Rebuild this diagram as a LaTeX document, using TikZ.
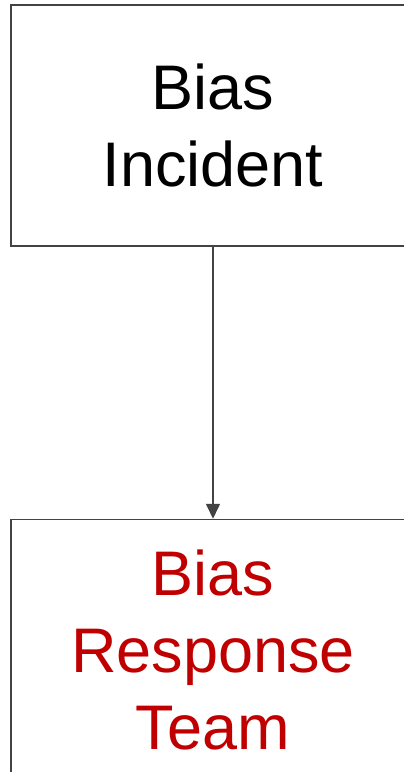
\documentclass[tikz,border=0pt]{standalone}
\usepackage{fontspec}
\setmainfont{Liberation Sans}
\usepackage{tikz}
\usetikzlibrary{arrows.meta, positioning}
\definecolor{edgegray}{HTML}{434343}
\definecolor{teamred}{HTML}{C00000}

\begin{document}
\begin{tikzpicture}[x=1pt, y=1pt, node distance=272pt,
    box/.style={draw=edgegray, line width=1.5pt, minimum width=404pt,
        align=center, font=\fontsize{63}{77}\selectfont, inner sep=0pt},
    flow/.style={draw=edgegray, line width=1.6pt,
        -{Triangle[width=14pt, length=15pt]}}]
    \useasboundingbox (0,0) rectangle (404,-772);

    \node[box, minimum height=241pt] (incident) at (213,-125.5) {Bias\\Incident};
    \node[box, minimum height=260pt, text=teamred] (team) [below=of incident] {Bias\\Response\\Team};

    \path[flow] (incident) -- (team);

\end{tikzpicture}
\end{document}
